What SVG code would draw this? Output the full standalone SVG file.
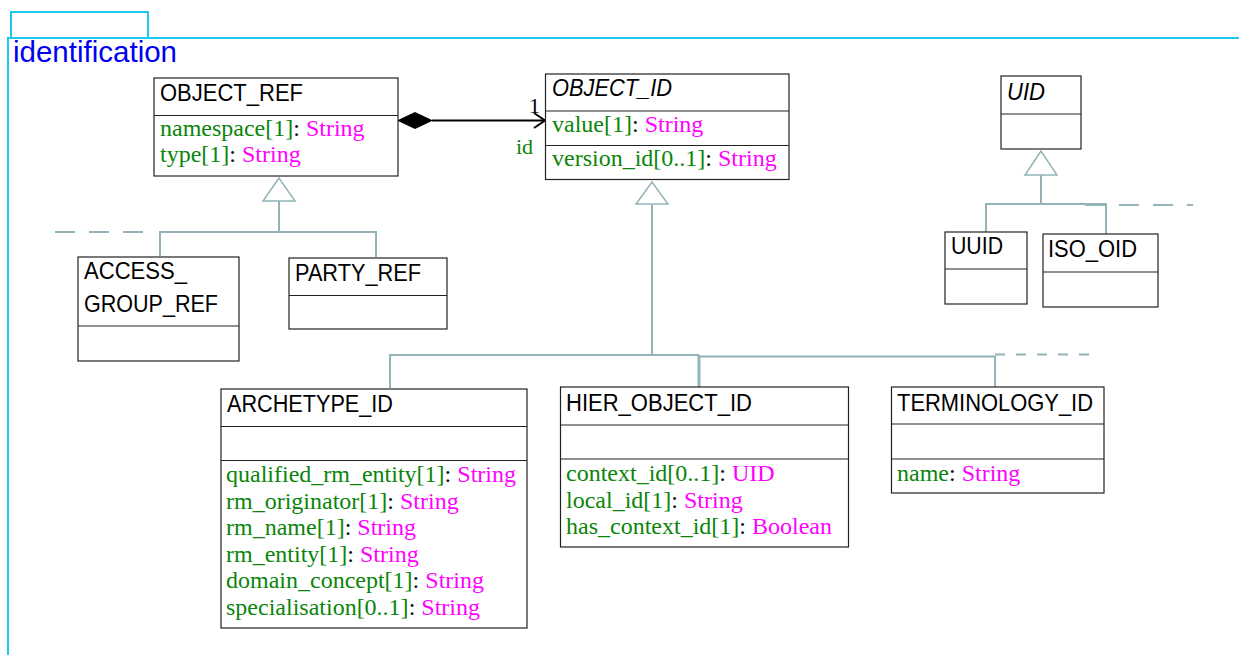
<svg xmlns="http://www.w3.org/2000/svg" width="1239" height="655" viewBox="0 0 1239 655">
  <style>
    .pkg { fill: none; stroke: #1ec8f0; stroke-width: 2; }
    .pkgname { font-family: "Liberation Sans", Arial, sans-serif; font-size: 29.5px; fill: #0000f0; }
    .box { fill: #ffffff; stroke: #222222; stroke-width: 1.2; }
    .div { stroke: #222222; stroke-width: 1.2; }
    .title { font-family: "Liberation Sans", Arial, sans-serif; font-size: 24.5px; fill: #000000; }
    .abs { font-style: italic; }
    .attr { font-family: "Liberation Serif", "Times New Roman", serif; font-size: 24px; fill: #000000; }
    .g { fill: #0a850a; }
    .m { fill: #ff00ff; }
    .gen { fill: none; stroke: #93b4b8; stroke-width: 2; }
    .genhead { fill: #ffffff; stroke: #93b4b8; stroke-width: 1.5; }
    .dash { fill: none; stroke: #93b4b8; stroke-width: 2; stroke-dasharray: 20 14; }
    .dash2 { fill: none; stroke: #93b4b8; stroke-width: 2; stroke-dasharray: 10 11; }
    .assoc { fill: none; stroke: #000000; stroke-width: 2; }
    .lbl { font-family: "Liberation Serif", "Times New Roman", serif; font-size: 22px; }
  </style>

  <!-- package frame -->
  <g id="package">
    <rect class="pkg" x="11" y="12" width="137" height="26"/>
    <polyline class="pkg" points="8,655 8,38 1239,38"/>
    <text class="pkgname" x="13" y="61.5">identification</text>
  </g>

  <!-- connectors -->
  <g id="connectors">
    <!-- OBJECT_REF hierarchy -->
    <polyline class="gen" points="279,201 279,232"/>
    <polyline class="gen" points="160,256 160,232 376,232 376,257"/>
    <line class="dash" x1="55" y1="232" x2="152" y2="232"/>
    <polygon class="genhead" points="279,178 263,201 295,201"/>

    <!-- OBJECT_ID hierarchy -->
    <polyline class="gen" points="652,205 652,355"/>
    <polyline class="gen" points="390,388 390,355 699,355"/>
    <line x1="699" y1="355" x2="699" y2="387" stroke="#93b4b8" stroke-width="3"/>
    <polyline class="gen" points="699,356.5 995,356.5 995,387"/>
    <line class="dash2" x1="995" y1="354.5" x2="1100" y2="354.5"/>
    <polygon class="genhead" points="652,182 636,204 668,204"/>

    <!-- UID hierarchy -->
    <polyline class="gen" points="1041,175 1041,204"/>
    <polyline class="gen" points="986,232 986,204 1106,204 1106,234"/>
    <line class="dash" x1="1085" y1="205" x2="1193" y2="205"/>
    <polygon class="genhead" points="1041,151 1025,175 1057,175"/>

    <!-- OBJECT_REF.id composition -->
    <line class="assoc" x1="432" y1="120.5" x2="545" y2="120.5"/>
    <polygon points="397,120.5 415,112 433,120.5 415,129" fill="#000000"/>
    <polyline class="assoc" points="534,113 545,120.5 534,128" stroke-width="1.6"/>
    <text class="lbl" x="529" y="113" fill="#000000">1</text>
    <text class="lbl g" x="516" y="154">id</text>
  </g>

  <g id="OBJECT_REF">
    <rect class="box" x="154" y="78" width="244" height="98"/>
    <line class="div" x1="154" y1="115.5" x2="398" y2="115.5"/>
    <text class="title" x="160" y="101" textLength="143" lengthAdjust="spacingAndGlyphs">OBJECT_REF</text>
    <text class="attr" x="160" y="136"><tspan class="g">namespace[1]</tspan>: <tspan class="m">String</tspan></text>
    <text class="attr" x="160" y="162"><tspan class="g">type[1]</tspan>: <tspan class="m">String</tspan></text>
  </g>

  <g id="OBJECT_ID">
    <rect class="box" x="545.5" y="74" width="243.5" height="105.5"/>
    <line class="div" x1="545.5" y1="111" x2="789" y2="111"/>
    <line class="div" x1="545.5" y1="145.5" x2="789" y2="145.5"/>
    <text class="title abs" x="552" y="96" textLength="120" lengthAdjust="spacingAndGlyphs">OBJECT_ID</text>
    <text class="attr" x="552" y="132"><tspan class="g">value[1]</tspan>: <tspan class="m">String</tspan></text>
    <text class="attr" x="552" y="166"><tspan class="g">version_id[0..1]</tspan>: <tspan class="m">String</tspan></text>
  </g>

  <g id="UID">
    <rect class="box" x="1001" y="76" width="80" height="73"/>
    <line class="div" x1="1001" y1="114" x2="1081" y2="114"/>
    <text class="title abs" x="1007" y="100" textLength="38" lengthAdjust="spacingAndGlyphs">UID</text>
  </g>

  <g id="UUID">
    <rect class="box" x="945" y="232" width="82" height="72"/>
    <line class="div" x1="945" y1="269" x2="1027" y2="269"/>
    <text class="title" x="951" y="254" textLength="52" lengthAdjust="spacingAndGlyphs">UUID</text>
  </g>

  <g id="ISO_OID">
    <rect class="box" x="1043" y="234" width="115" height="73"/>
    <line class="div" x1="1043" y1="272" x2="1158" y2="272"/>
    <text class="title" x="1048" y="256.5" textLength="89" lengthAdjust="spacingAndGlyphs">ISO_OID</text>
  </g>

  <g id="ACCESS_GROUP_REF">
    <rect class="box" x="78" y="257" width="161" height="104"/>
    <line class="div" x1="78" y1="326" x2="239" y2="326"/>
    <text class="title" x="84" y="279" textLength="103" lengthAdjust="spacingAndGlyphs">ACCESS_</text>
    <text class="title" x="84" y="311.5" textLength="134" lengthAdjust="spacingAndGlyphs">GROUP_REF</text>
  </g>

  <g id="PARTY_REF">
    <rect class="box" x="289" y="258" width="158" height="71"/>
    <line class="div" x1="289" y1="295.5" x2="447" y2="295.5"/>
    <text class="title" x="295" y="281" textLength="126" lengthAdjust="spacingAndGlyphs">PARTY_REF</text>
  </g>

  <g id="ARCHETYPE_ID">
    <rect class="box" x="221" y="389" width="306" height="239"/>
    <line class="div" x1="221" y1="426.5" x2="527" y2="426.5"/>
    <line class="div" x1="221" y1="460.5" x2="527" y2="460.5"/>
    <text class="title" x="227" y="412" textLength="166" lengthAdjust="spacingAndGlyphs">ARCHETYPE_ID</text>
    <text class="attr" x="226" y="482"><tspan class="g">qualified_rm_entity[1]</tspan>: <tspan class="m">String</tspan></text>
    <text class="attr" x="226" y="508.5"><tspan class="g">rm_originator[1]</tspan>: <tspan class="m">String</tspan></text>
    <text class="attr" x="226" y="535"><tspan class="g">rm_name[1]</tspan>: <tspan class="m">String</tspan></text>
    <text class="attr" x="226" y="561.5"><tspan class="g">rm_entity[1]</tspan>: <tspan class="m">String</tspan></text>
    <text class="attr" x="226" y="588"><tspan class="g">domain_concept[1]</tspan>: <tspan class="m">String</tspan></text>
    <text class="attr" x="226" y="614.5"><tspan class="g">specialisation[0..1]</tspan>: <tspan class="m">String</tspan></text>
  </g>

  <g id="HIER_OBJECT_ID">
    <rect class="box" x="560.5" y="387" width="288" height="160"/>
    <line class="div" x1="560.5" y1="425" x2="848.5" y2="425"/>
    <line class="div" x1="560.5" y1="459" x2="848.5" y2="459"/>
    <text class="title" x="566" y="411" textLength="186" lengthAdjust="spacingAndGlyphs">HIER_OBJECT_ID</text>
    <text class="attr" x="566" y="481"><tspan class="g">context_id[0..1]</tspan>: <tspan class="m">UID</tspan></text>
    <text class="attr" x="566" y="507.5"><tspan class="g">local_id[1]</tspan>: <tspan class="m">String</tspan></text>
    <text class="attr" x="566" y="534"><tspan class="g">has_context_id[1]</tspan>: <tspan class="m">Boolean</tspan></text>
  </g>

  <g id="TERMINOLOGY_ID">
    <rect class="box" x="891.5" y="387" width="212.5" height="106"/>
    <line class="div" x1="891.5" y1="424" x2="1104" y2="424"/>
    <line class="div" x1="891.5" y1="459" x2="1104" y2="459"/>
    <text class="title" x="897" y="411" textLength="196" lengthAdjust="spacingAndGlyphs">TERMINOLOGY_ID</text>
    <text class="attr" x="897" y="481"><tspan class="g">name</tspan>: <tspan class="m">String</tspan></text>
  </g>
</svg>
